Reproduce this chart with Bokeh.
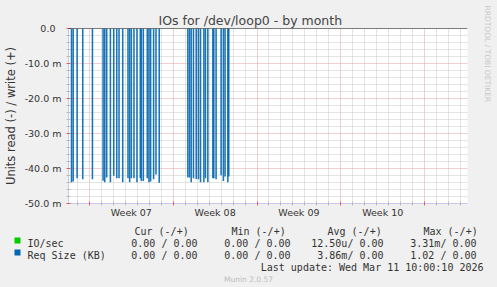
from bokeh.plotting import figure
from bokeh.layouts import column, row
from bokeh.models import Range1d, FixedTicker, Span, LinearAxis
from bokeh.core.properties import value
from bokeh.embed import file_html
from bokeh.resources import INLINE

# ---------------- data ----------------
title_text = "IOs for /dev/loop0 - by month"
y_label = "Units read (-) / write (+)"

# x axis in days since Monday of Week 07
week_ticks = [3.5, 10.5, 17.5, 24.5]
week_labels = ["Week 07", "Week 08", "Week 09", "Week 10"]
week_starts = [0, 7, 14, 21, 28]
day_lines = [d for d in range(-1, 32) if d % 7 != 0]

y_ticks = [0, -10, -20, -30, -40, -50]
y_tick_labels = ["0.0\u00a0\u00a0", "-10.0 m", "-20.0 m", "-30.0 m", "-40.0 m", "-50.0 m"]
y_minor = [v for v in range(-50, 1, 2) if v % 10 != 0]

# read spikes (milli-units), day position and value
spike_day = [-1.5, -1.36, -1.03, -0.56, 0.25, 1.14, 1.28, 1.44, 1.75, 2.03, 2.28, 2.47,
             2.78, 3.22, 3.36, 3.5, 3.72, 3.97, 4.25, 4.33, 4.5, 4.83, 4.97, 5.11,
             5.36, 5.56, 5.83,
             8.22, 8.36, 8.5, 8.69, 8.92, 9.11, 9.28, 9.56, 9.69, 9.89, 10.31, 10.39,
             10.58, 11.0, 11.19, 11.33, 11.56, 11.64]
spike_value = [-43.9, -43.7, -42.8, -43.1, -43.1, -43.5, -43.9, -42.6, -43.9, -42.1, -42.8, -42.8,
               -43.9, -42.8, -43.9, -42.8, -42.8, -43.9, -42.8, -43.6, -43.6, -42.8, -43.9, -43.7,
               -43.1, -41.7, -44.1,
               -42.6, -42.6, -43.9, -42.8, -43.0, -43.1, -43.9, -43.9, -42.8, -43.9, -42.8, -42.8,
               -43.1, -41.9, -43.6, -42.3, -43.9, -42.3]

legend_headers = ["Cur (-/+)", "Min (-/+)", "Avg (-/+)", "Max (-/+)"]
series_names = ["IO/sec", "Req Size (KB)"]
series_colors = ["#00cc00", "#0066b3"]
series_cur = ["0.00 / 0.00", "0.00 / 0.00"]
series_min = ["0.00 / 0.00", "0.00 / 0.00"]
series_avg = ["12.50u/ 0.00", "3.86m/ 0.00"]
series_max = ["3.31m/ 0.00", "1.02 / 0.00"]
last_update = "Last update: Wed Mar 11 10:00:10 2026"
footer = "Munin 2.0.57"
watermark = "RRDTOOL / TOBI OETIKER"

# ---------------- layout ----------------
W, H = 497, 287
MAIN_W = 480
MAIN_H = 225
FL, FT, FR, FB = 67, 28, 467, 203
LEG_TOP = MAIN_H
BG = "#f0f0f0"
TXT = "#333333"
SANS = "DejaVu Sans"
MONO = "DejaVu Sans Mono"
AXC = "#c8c8ee"


def blank(w, h, x0, x1, y0, y1):
    f = figure(width=w, height=h, output_backend="svg", toolbar_location=None,
               x_range=Range1d(x0, x1), y_range=Range1d(y1, y0),
               x_axis_location=None, y_axis_location=None, min_border=0,
               frame_align=False)
    try:
        f.title_location = None
    except Exception:
        f.title.visible = False
    f.border_fill_color = BG
    f.background_fill_color = BG
    f.outline_line_color = None
    f.grid.visible = False
    return f


def txt(f, t, x, y, font=MONO, size="10px", color=TXT, align="left",
        baseline="alphabetic", angle=0.0):
    f.text(x=[x], y=[y], text=[t], text_font=value(font), text_font_size=value(size),
           text_color=color, text_align=align, text_baseline=baseline, angle=angle)


# main plot
p = figure(width=MAIN_W, height=MAIN_H, output_backend="svg", toolbar_location=None,
           x_range=Range1d(-1.75, 31.5833), y_range=Range1d(-50, 0),
           min_border_left=FL, min_border_right=MAIN_W - FR,
           min_border_top=FT, min_border_bottom=MAIN_H - FB,
           frame_align=False, title=title_text)
p.title.align = "left"
p.title.offset = 157 - FL
p.title.standoff = 2
p.title.text_font = SANS
p.title.text_font_size = "12.5px"
p.title.text_font_style = "normal"
p.title.text_color = "#444444"
p.border_fill_color = BG
p.background_fill_color = "white"
p.outline_line_color = None

# x axis 1: week boundaries (red) and day ticks (grey), no labels
xa = p.xaxis[0]
xa.ticker = FixedTicker(ticks=week_starts, minor_ticks=day_lines)
xa.major_label_overrides = {k: "" for k in week_starts}
xa.major_label_text_font_size = "0px"
xa.major_label_standoff = 0
xa.major_tick_line_color = "#e06060"
xa.major_tick_out = 2
xa.major_tick_in = 2
xa.minor_tick_line_color = "#bbbbbb"
xa.minor_tick_out = 2
xa.minor_tick_in = 2
xa.axis_line_color = AXC

# x axis 2: week labels centred on the weeks
xl = LinearAxis(ticker=FixedTicker(ticks=week_ticks, minor_ticks=[]))
xl.major_label_overrides = {float(k): v for k, v in zip(week_ticks, week_labels)}
xl.axis_line_color = None
xl.major_tick_line_color = None
xl.minor_tick_line_color = None
xl.major_tick_out = 0
xl.major_tick_in = 0
xl.minor_tick_out = 0
xl.major_label_standoff = 1
xl.major_label_text_font = SANS
xl.major_label_text_font_size = "9.5px"
xl.major_label_text_color = TXT
p.add_layout(xl, "below")

ya = p.yaxis[0]
ya.ticker = FixedTicker(ticks=y_ticks, minor_ticks=y_minor)
ya.major_label_overrides = {k: v for k, v in zip(y_ticks, y_tick_labels)}
ya.axis_line_color = AXC
ya.major_tick_line_color = "#e06060"
ya.minor_tick_line_color = "#bbbbbb"
ya.major_tick_out = 2
ya.major_tick_in = 2
ya.minor_tick_out = 2
ya.minor_tick_in = 2
ya.major_label_standoff = 5
ya.major_label_text_font = SANS
ya.major_label_text_font_size = "9.5px"
ya.major_label_text_color = TXT
ya.axis_label = y_label
ya.axis_label_text_font = SANS
ya.axis_label_text_font_size = "11.5px"
ya.axis_label_text_font_style = "normal"
ya.axis_label_text_color = TXT
ya.axis_label_standoff = 4

xg = p.xgrid[0]
xg.ticker = FixedTicker(ticks=week_starts, minor_ticks=day_lines)
xg.grid_line_color = "#e4a0a0"
xg.grid_line_dash = "1 1"
xg.minor_grid_line_color = "#c8c8c8"
xg.minor_grid_line_dash = "1 1"
yg = p.ygrid[0]
yg.grid_line_color = "#e4a0a0"
yg.grid_line_dash = "1 1"
yg.minor_grid_line_color = "#c8c8c8"
yg.minor_grid_line_dash = "1 1"

p.vbar(x=spike_day, top=0, bottom=spike_value, width=0.13,
       fill_color=series_colors[1], fill_alpha=0.9, line_color=None)
p.add_layout(Span(location=0, dimension="width", line_color="black", line_width=1))

# right-hand watermark
side = blank(W - MAIN_W, MAIN_H, MAIN_W, W, 0, MAIN_H)
txt(side, watermark, 487, 5, font=SANS, size="7.5px", color="#c8c8c8",
    baseline="middle", angle=-1.5708)

# legend area
leg = blank(W, H - LEG_TOP, 0, W, LEG_TOP, H)
header_x = [134, 231, 327, 423]
for t, hx in zip(legend_headers, header_x):
    txt(leg, t, hx, 231)
col_right = [197, 290, 383, 476]
row_y = [243, 255]
for i in range(len(series_names)):
    cy = row_y[i]
    leg.rect(x=[17], y=[cy - 3], width=6, height=6, fill_color=series_colors[i],
             line_color=None)
    txt(leg, series_names[i], 27, cy)
    for j, vals in enumerate([series_cur, series_min, series_avg, series_max]):
        txt(leg, vals[i], col_right[j], cy, align="right")
txt(leg, last_update, 483, 267, align="right")
txt(leg, footer, 248, 279, font=SANS, size="7.5px", color="#bbbbbb", align="center")

layout = column(row(p, side, spacing=0), leg, spacing=0)
layout.background = BG
open("out.html", "w").write(file_html(layout, INLINE))
